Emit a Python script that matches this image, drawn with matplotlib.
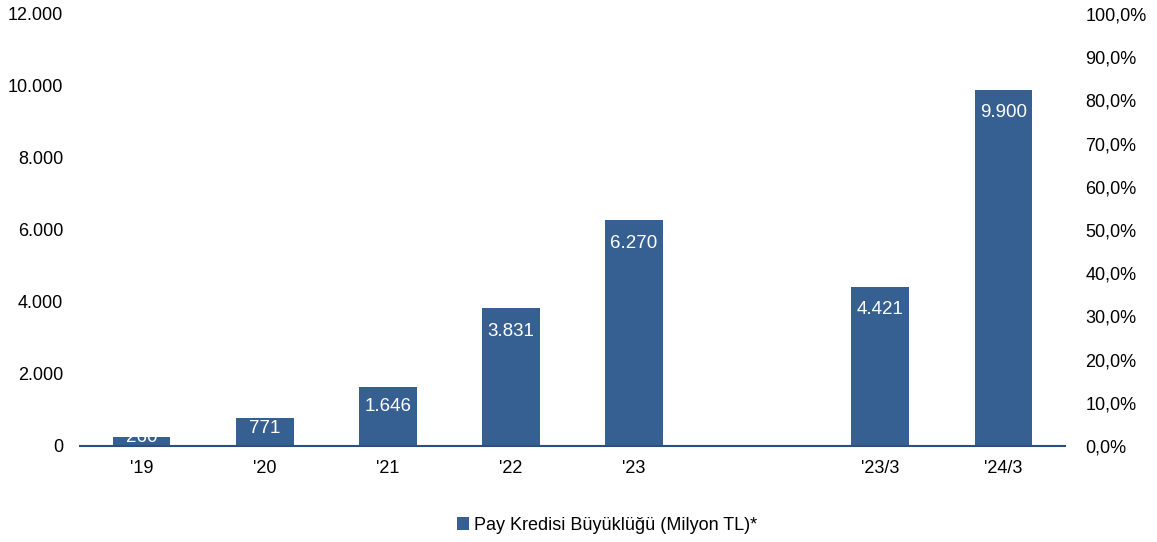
import matplotlib.pyplot as plt
import numpy as np

plt.rcParams['font.family'] = ['Liberation Sans', 'DejaVu Sans']

# data
categories = ["'19", "'20", "'21", "'22", "'23", "", "'23/3", "'24/3"]
values = [260, 771, 1646, 3831, 6270, np.nan, 4421, 9900]
left_ticks = [0, 2000, 4000, 6000, 8000, 10000, 12000]
right_ticks = [0, 10, 20, 30, 40, 50, 60, 70, 80, 90, 100]

BAR = "#376092"
FS = 13

def tr_num(v):
    return f"{int(v):,}".replace(",", ".")

fig = plt.figure(figsize=(11.57, 5.42), dpi=100)
ax = fig.add_axes([80 / 1157, 96 / 542, 985 / 1157, 432 / 542])
x = np.arange(len(categories))
ax.bar(x, values, width=0.47, color=BAR, label="Pay Kredisi Büyüklüğü (Milyon TL)*")

ax.set_xlim(-0.5, len(categories) - 0.5)
ax.set_ylim(0, 12000)
ax.set_yticks(left_ticks)
ax.set_yticklabels([tr_num(t) for t in left_ticks], fontsize=FS)
ax.set_xticks(x)
ax.set_xticklabels(categories, fontsize=FS)
ax.tick_params(axis="y", length=0, pad=12)
ax.tick_params(axis="x", length=0, pad=10)
for s in ["top", "right", "left"]:
    ax.spines[s].set_visible(False)
ax.spines["bottom"].set_color("#2c4f7c")
ax.spines["bottom"].set_linewidth(1.5)

# value labels inside bar tops
for xi, v in zip(x, values):
    if np.isnan(v):
        continue
    y = max(v - min(640, 0.3 * v + 55), 250)
    ax.text(xi, y, tr_num(v), ha="center", va="center", color="white", fontsize=13.5)

ax2 = ax.twinx()
ax2.set_ylim(0, 100)
ax2.set_yticks(right_ticks)
ax2.set_yticklabels([f"{t},0%" for t in right_ticks], fontsize=FS)
ax2.tick_params(length=0, pad=14.5)
for s in ax2.spines.values():
    s.set_visible(False)

fig.legend(loc="center", bbox_to_anchor=(607 / 1157, 17 / 542), frameon=False,
           fontsize=FS, handlelength=0.7, handleheight=0.7, handletextpad=0.25)

fig.savefig("out.png", dpi=100)
